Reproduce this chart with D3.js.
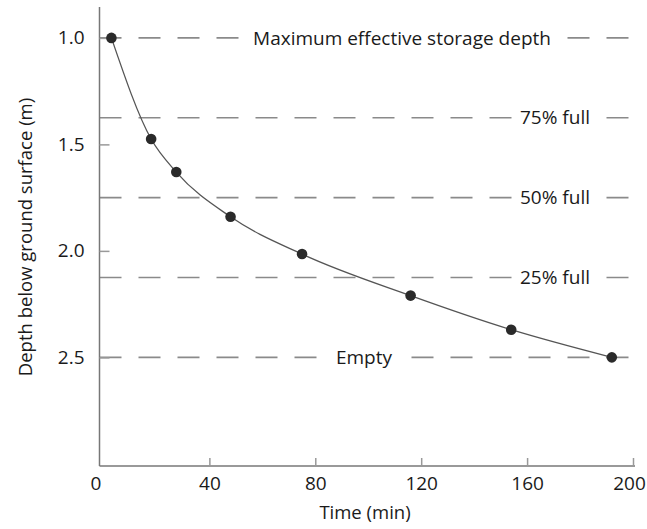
<!DOCTYPE html>
<html>
<head>
<meta charset="utf-8">
<script src="https://cdn.jsdelivr.net/npm/d3@7"></script>
<style>
  body { margin: 0; background: #fff; }
  text { font-family: "Open Sans", "Noto Sans", sans-serif; fill: #1a1a1a; }
</style>
</head>
<body>
<svg width="647" height="529"></svg>
<script>
// measured points
var times = [3, 18, 27.5, 48, 75, 116, 154, 192];
var depths = [1.0, 1.475, 1.63, 1.84, 2.015, 2.21, 2.37, 2.5];

// reference levels
var levelDepths = [1.0, 1.375, 1.75, 2.125, 2.5];
var levelNames = ["Maximum effective storage depth", "75% full", "50% full", "25% full", "Empty"];
var levelLabelX = [402, 555, 555, 555, 364];

var xTicks = [0, 40, 80, 120, 160, 200];
var yTicks = [1.0, 1.5, 2.0, 2.5];

var svg = d3.select("svg");

var x = d3.scaleLinear().domain([-1.5, 200]).range([99.5, 633]);
var y = d3.scaleLinear().domain([0.855, 3.01]).range([7, 466]);

var axisColor = "#777";

// dashed level lines
var levels = svg.append("g").selectAll("g")
  .data(levelDepths)
  .enter().append("g");

levels.append("line")
  .attr("x1", x(-1.5))
  .attr("x2", 636)
  .attr("y1", function(d) { return y(d); })
  .attr("y2", function(d) { return y(d); })
  .attr("stroke", "#8a8a8a")
  .attr("stroke-width", 1.6)
  .attr("stroke-dasharray", "22,17");

// labels with white box behind
levels.each(function(d, i) {
  var g = d3.select(this);
  var t = g.append("text")
    .attr("x", levelLabelX[i])
    .attr("y", y(d))
    .attr("dy", "0.35em")
    .attr("text-anchor", "middle")
    .style("font-size", "19px")
    .text(levelNames[i]);
  var b = t.node().getBBox();
  g.insert("rect", "text")
    .attr("x", b.x - 8)
    .attr("y", b.y)
    .attr("width", b.width + 16)
    .attr("height", b.height)
    .attr("fill", "#fff");
});

// axes
var xAxis = d3.axisBottom(x).tickValues(xTicks).tickSize(-8).tickPadding(11);
var gx = svg.append("g").attr("transform", "translate(0," + y(3.01) + ")").call(xAxis);
gx.select(".domain").attr("stroke", axisColor).attr("stroke-width", 1.5).attr("d", "M99.5,0H635");
gx.selectAll(".tick line").attr("stroke", "#999").attr("stroke-width", 1.5);
gx.selectAll(".tick").filter(function(d) { return d === 0; }).select("line").remove();
gx.selectAll(".tick text").style("font-size", "19px").attr("fill", "#1a1a1a")
  .attr("dx", function(d) { return d === 0 ? -8 : (d === 200 ? -4 : 0); });

var yAxis = d3.axisLeft(y).tickValues(yTicks).tickFormat(d3.format(".1f")).tickSize(-10).tickPadding(15);
var gy = svg.append("g").attr("transform", "translate(" + x(-1.5) + ",0)").call(yAxis);
gy.select(".domain").attr("stroke", axisColor).attr("stroke-width", 1.5).attr("d", "M0,7V466");
gy.selectAll(".tick line").attr("stroke", "#999").attr("stroke-width", 1.5);
gy.selectAll(".tick text").style("font-size", "19px").attr("fill", "#1a1a1a");

// axis titles
svg.append("text")
  .attr("x", 365)
  .attr("y", 519)
  .attr("text-anchor", "middle")
  .style("font-size", "18.5px")
  .text("Time (min)");

svg.append("text")
  .attr("transform", "translate(32,237) rotate(-90)")
  .attr("text-anchor", "middle")
  .style("font-size", "18.5px")
  .text("Depth below ground surface (m)");

// curve
var pts = times.map(function(t, i) { return [t, depths[i]]; });
var line = d3.line()
  .x(function(d) { return x(d[0]); })
  .y(function(d) { return y(d[1]); })
  .curve(d3.curveMonotoneX);

svg.append("path")
  .datum(pts)
  .attr("d", line)
  .attr("fill", "none")
  .attr("stroke", "#555")
  .attr("stroke-width", 1.3);

svg.append("g").selectAll("circle")
  .data(pts)
  .enter().append("circle")
  .attr("cx", function(d) { return x(d[0]); })
  .attr("cy", function(d) { return y(d[1]); })
  .attr("r", 5.3)
  .attr("fill", "#2a2a2a");
</script>
</body>
</html>
